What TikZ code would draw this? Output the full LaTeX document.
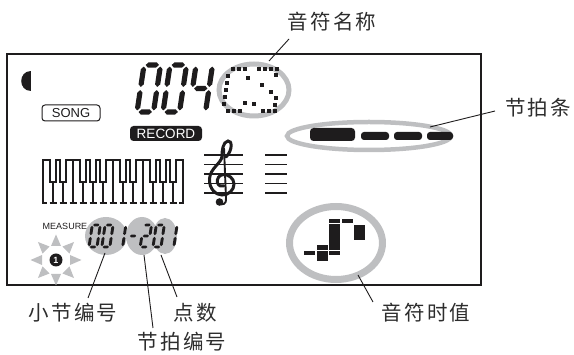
\documentclass[tikz,border=0pt]{standalone}
\usepackage{fontspec}
\setmainfont{Liberation Sans}
\newfontfamily\cjk[LetterSpace=10]{Noto Sans CJK SC}
\definecolor{ringg}{RGB}{190,191,193}
\definecolor{ink}{RGB}{30,28,29}
\definecolor{lbl}{RGB}{45,45,45}
% seven-segment helpers (local coords: origin bottom-left, y downwards)
\newcommand\hseg[4]{\fill ({#1},{#3}) -- ({#1+#4/2},{#3-#4/2}) -- ({#2-#4/2},{#3-#4/2}) -- ({#2},{#3}) -- ({#2-#4/2},{#3+#4/2}) -- ({#1+#4/2},{#3+#4/2}) -- cycle;}
\newcommand\vseg[4]{\fill ({#1},{#2}) -- ({#1+#4/2},{#2+#4/2}) -- ({#1+#4/2},{#3-#4/2}) -- ({#1},{#3}) -- ({#1-#4/2},{#3-#4/2}) -- ({#1-#4/2},{#2+#4/2}) -- cycle;}
\def\sega{\hseg{\dG}{\dW-\dG}{-\dH}{\dT}}
\def\segb{\vseg{\dW}{-\dH+\dG}{-\dH/2-\dG}{\dT}}
\def\segc{\vseg{\dW}{-\dH/2+\dG}{-\dG}{\dT}}
\def\segd{\hseg{\dG}{\dW-\dG}{0}{\dT}}
\def\sege{\vseg{0}{-\dH/2+\dG}{-\dG}{\dT}}
\def\segf{\vseg{0}{-\dH+\dG}{-\dH/2-\dG}{\dT}}
\def\segg{\hseg{\dG}{\dW-\dG}{-\dH/2}{\dT}}
\newcommand\sdigit[6]{%
  \begin{scope}[shift={(#1,#2)},xslant=0.15]
    \def\dW{#3}\def\dH{#4}\def\dT{#5}\pgfmathsetmacro\dG{#5*0.3}
    \foreach \s in {#6}{\csname seg\s\endcsname}
  \end{scope}}
\tikzset{
  lab/.style={font=\cjk\fontsize{20.5}{20.5}\selectfont, text=lbl, inner sep=0pt},
  leader/.style={draw=ink, line width=0.9pt},
  ring/.style={draw=ringg},
  kb/.style={draw=ink, line width=1.6pt},
}
\begin{document}
\begin{tikzpicture}[x=1pt,y=-1pt]
\useasboundingbox (0,0) rectangle (574,355);
% LCD frame
\draw[ink, line width=1.5pt] (7,54) rectangle (481,285);
% moon
\fill[ink] (31,71) .. controls (18,71) and (18,91) .. (31,91) -- cycle;
% SONG / RECORD
\node[draw=ink, line width=1pt, rounded corners=3pt, minimum width=58pt, minimum height=16pt, inner sep=0pt, text=ink, font=\fontsize{13}{13}\selectfont] (song) at (71,113) {SONG};
\node[fill=ink, rounded corners=3.5pt, minimum width=72pt, minimum height=15pt, inner sep=0pt, text=white, font=\fontsize{13.5}{13.5}\selectfont] (rec) at (166,133.5) {RECORD};
% big digits 004
\begin{scope}[ink]
\sdigit{137}{112}{16.5}{47}{5.2}{a,b,c,d,e,f}
\sdigit{163}{112}{16.5}{47}{5.2}{a,b,c,d,e,f}
\sdigit{189}{112}{16.5}{47}{5.2}{b,c,f,g}
\end{scope}
% note name ring and dot-matrix C.3
\draw[ring, line width=5pt] (254,90) ellipse[x radius=35, y radius=26];
\foreach \p in {(233,69),(239,69),(245,69),(259,69),(265,69),(271,69),(277,69),(276,75),
  (228,76),(227,83),(226,90),(225,97),(224,104),(228,111),(234,111),(240,111),
  (263,111),(269,111),(275,111),(248,78),(245,103),(254,104),(262,85),(271,92),(276,98),(275,105)}
  {\fill[ink] \p ++(-1.9,-1.9) rectangle ++(3.8,3.8);}
% beat bar
\draw[ring, line width=4.5pt] (369,136) ellipse[x radius=82, y radius=14];
\fill[ink, rounded corners=3.5pt] (310,128) rectangle (355,141);
\fill[ink, rounded corners=3pt] (361,132) rectangle (389,140);
\fill[ink, rounded corners=3pt] (394,132) rectangle (422,140);
\fill[ink, rounded corners=3pt] (427,132) rectangle (453,140);
% keyboard
\draw[kb, line join=miter] (43,203) -- (43,160)
  \foreach \b in {53,63,83,93,103,123,133,153,163,173} { -- ({\b-2.8},160) -- ({\b-2.8},182) -- ({\b+2.8},182) -- ({\b+2.8},160)}
  -- (183,160) -- (183,203);
\foreach \b in {53,63,83,93,103,123,133,153,163,173} {
  \draw[kb] (\b,182) -- (\b,203);
  \draw[kb] ({\b-3.5},203) -- ({\b+3.5},203);}
\foreach \b in {73,113,143} {
  \draw[kb] (\b,160) -- (\b,203);
  \draw[kb] ({\b-3.5},203) -- ({\b+3.5},203);}
\draw[kb] (42.2,203) -- (47,203);
\draw[kb] (179,203) -- (183.8,203);
% staff
\foreach \y in {155,164.5,174,183.5,193} {
  \draw[ink, line width=1.3pt] (204,\y) -- (243,\y);
  \draw[ink, line width=1.3pt] (265,\y) -- (287,\y);}
% treble clef
\draw[ink, line width=3pt, line cap=round]
  (226,157) .. controls (233,150) and (232,140) .. (228,141)
  .. controls (223,142) and (222,150) .. (222,156)
  .. controls (222,163) and (210,168) .. (209.5,179)
  .. controls (209,189) and (216,195) .. (222,195)
  .. controls (229,195) and (234,190) .. (234,184)
  .. controls (234,178) and (228,174.5) .. (224,174.5)
  .. controls (219,174.5) and (216.5,179) .. (217.5,183)
  .. controls (218.5,186) and (222,187) .. (224,186);
\draw[ink, line width=1.9pt] (224,148) -- (226,198) .. controls (227,204) and (222,206) .. (219,203);
\fill[ink] (219.5,202) circle[radius=3.8];
% measure
\node[inner sep=0pt, text=ink, font=\fontsize{9}{9}\selectfont] (meas) at (65,226.5) {MEASURE};
\fill[ringg] (106,236) ellipse[x radius=21, y radius=19];
\fill[ringg] (142,236) ellipse[x radius=16, y radius=19];
\fill[ringg] (165,236) ellipse[x radius=12, y radius=18];
\begin{scope}[ink]
\sdigit{89}{247}{8}{22}{2.9}{a,b,c,d,e,f}
\sdigit{101.8}{247}{8}{22}{2.9}{a,b,c,d,e,f}
\sdigit{114.6}{247}{8}{22}{2.9}{b,c}
\sdigit{127.4}{247}{8}{22}{2.9}{g}
\sdigit{140.2}{247}{8}{22}{2.9}{a,b,g,e,d}
\sdigit{153}{247}{8}{22}{2.9}{a,b,c,d,e,f}
\sdigit{165.8}{247}{8}{22}{2.9}{b,c}
\end{scope}
% star icon
\foreach \a in {0,45,...,315}
  \fill[ringg, rotate around={\a:(56,260)}] (81.5,260) -- (70,255) -- (70,265) -- cycle;
\node[circle, fill=ink, minimum size=13pt, inner sep=0pt, text=white, font=\bfseries\fontsize{9}{9}\selectfont] (one) at (56,260) {1};
% note duration
\draw[ring, line width=7pt] (336,243) ellipse[x radius=46.5, y radius=36.5];
\fill[ink] (304,251) rectangle (315,255.5);
\fill[ink] (317,245) rectangle (328,250);
\fill[ink] (317,251) rectangle (328,261);
\fill[ink] (329,251) rectangle (340,255.5);
\fill[ink] (329,224) rectangle (340,250);
\fill[ink] (329,219) rectangle (340,223);
\fill[ink] (342,219) rectangle (353,223);
\fill[ink] (354,225) rectangle (364.5,240);
% labels
\node[lab] (lblname) at (332,22) {音符名称};
\node[lab] (lblbeat) at (538,108) {节拍条};
\node[lab] (lbldur) at (426,313) {音符时值};
\node[lab] (lblmeas) at (73,313) {小节编号};
\node[lab] (lbldots) at (195,313) {点数};
\node[lab] (lblbeatno) at (182,342) {节拍编号};
% leader ends
\coordinate (sname) at (289,39);
\coordinate (pname) at (269,61);
\coordinate (sbeat) at (495,111);
\coordinate (pbeat) at (430,127);
\coordinate (sdur) at (373,302);
\coordinate (pdur) at (358,275);
\coordinate (smeas) at (88,298);
\coordinate (pmeas) at (105,253);
\coordinate (sbeatno) at (153,328);
\coordinate (pbeatno) at (144,255);
\coordinate (sdots) at (177,297);
\coordinate (pdots) at (161,255);
\draw[leader] (sname) -- (pname);
\draw[leader] (sbeat) -- (pbeat);
\draw[leader] (sdur) -- (pdur);
\draw[leader] (smeas) -- (pmeas);
\draw[leader] (sbeatno) -- (pbeatno);
\draw[leader] (sdots) -- (pdots);
\end{tikzpicture}
\end{document}
